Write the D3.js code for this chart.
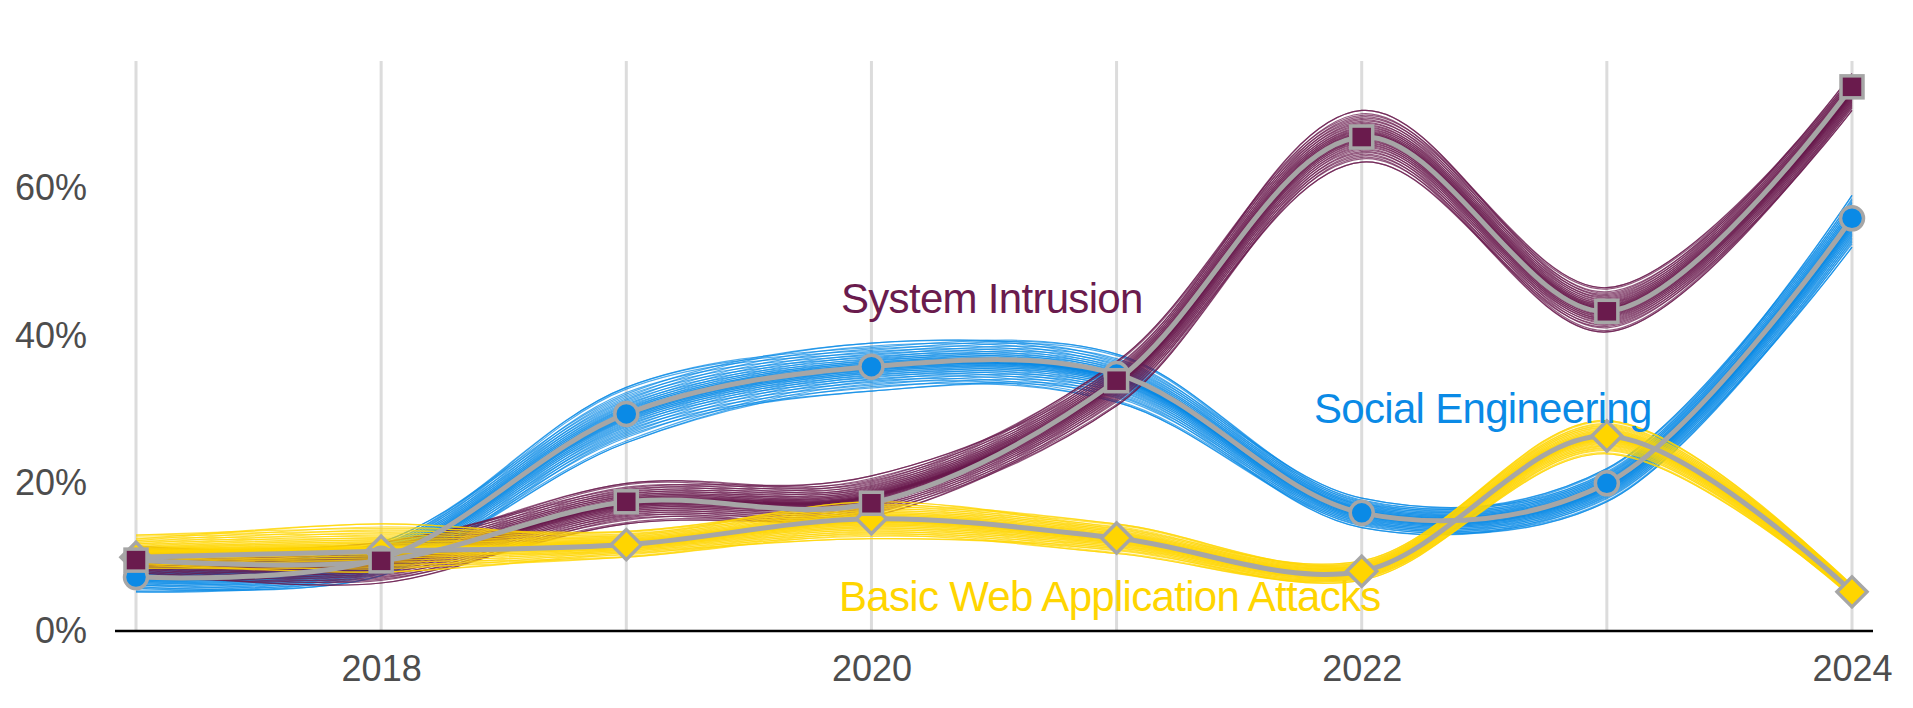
<!DOCTYPE html>
<html><head><meta charset="utf-8">
<script src="https://cdn.jsdelivr.net/npm/d3@7"></script>
<style>
html,body{margin:0;padding:0;background:#fff;}
svg{display:block;}
</style></head>
<body>
<svg id="chart" width="1913" height="708"></svg>
<script>
// ---- data (percent) ----
const years = [2017, 2018, 2019, 2020, 2021, 2022, 2023, 2024];
const xTickYears = [2018, 2020, 2022, 2024];
const yTickValues = [0, 20, 40, 60];
const seriesNames = ["System Intrusion", "Social Engineering", "Basic Web Application Attacks"];

const systemIntrusion   = [9.6, 9.5, 17.5, 17.3, 33.9, 66.9, 43.3, 73.7];
const socialEngineering = [7.3, 9.8, 29.4, 35.8, 34.8, 16.0, 20.0, 55.9];
const basicWebApp       = [10.0, 10.8, 11.7, 15.2, 12.6, 8.1, 26.4, 5.3];

// uncertainty band edges
const systemIntrusionLo   = [7.5, 6.5, 14.5, 15.5, 30.5, 63.5, 40.5, 70.5];
const systemIntrusionHi   = [11.5, 12.0, 20.0, 21.0, 36.5, 70.5, 46.5, 75.5];
const socialEngineeringLo = [5.3, 7.5, 25.5, 32.5, 31.0, 14.0, 17.5, 52.0];
const socialEngineeringHi = [9.5, 12.0, 33.0, 39.0, 37.5, 18.0, 22.0, 59.0];
const basicWebAppLo       = [8.5, 8.0, 10.0, 12.5, 10.5, 6.9, 24.0, 4.5];
const basicWebAppHi       = [13.0, 14.5, 13.5, 17.5, 14.5, 9.5, 28.5, 6.2];

const colors = ["#6a1b4d", "#0a8ae6", "#ffd500"];

// ---- layout ----
const svg = d3.select("#chart");
const x = d3.scaleLinear().domain([2017, 2024]).range([136, 1852]);
const y = d3.scaleLinear().domain([0, 77.2]).range([631, 61]);
const FONT = "'Liberation Sans', Arial, Helvetica, sans-serif";

// vertical gridlines
svg.append("g").selectAll("line").data(years).join("line")
  .attr("x1", d => x(d)).attr("x2", d => x(d))
  .attr("y1", y(77.2)).attr("y2", y(0))
  .attr("stroke", "#dcdcdc").attr("stroke-width", 3);

// y axis labels
const yAxis = svg.append("g").attr("transform", "translate(87,0)")
  .call(d3.axisLeft(y).tickValues(yTickValues).tickFormat(d => d + "%").tickSize(0).tickPadding(0));
yAxis.select(".domain").remove();
yAxis.selectAll("text").attr("font-family", FONT).attr("font-size", 36).attr("fill", "#4d4d4d");

// x axis
const xAxis = svg.append("g").attr("transform", `translate(0,${y(0)})`)
  .call(d3.axisBottom(x).tickValues(xTickYears).tickFormat(d3.format("d")).tickSize(0).tickPadding(24));
xAxis.select(".domain").remove();
xAxis.selectAll("text").attr("font-family", FONT).attr("font-size", 36).attr("fill", "#4d4d4d");
svg.append("line").attr("x1", 115).attr("x2", 1873).attr("y1", y(0)).attr("y2", y(0))
  .attr("stroke", "#000").attr("stroke-width", 2.5);

const series = [
  {name: seriesNames[0], v: systemIntrusion, lo: systemIntrusionLo, hi: systemIntrusionHi, c: colors[0]},
  {name: seriesNames[1], v: socialEngineering, lo: socialEngineeringLo, hi: socialEngineeringHi, c: colors[1]},
  {name: seriesNames[2], v: basicWebApp, lo: basicWebAppLo, hi: basicWebAppHi, c: colors[2]}
];

// thin sample lines filling each band (denser towards the middle)
const thin = d3.line().x(d => x(d[0])).y(d => y(d[1])).curve(d3.curveCatmullRom.alpha(0.5));
const N = 56;
function frac(j) { const t = (j / (N - 1)) * 2 - 1; return 0.5 + 0.5 * Math.sign(t) * Math.pow(Math.abs(t), 1.8); }
const drawOrder = [1, 0, 2];
drawOrder.forEach(si => {
  const s = series[si];
  const g = svg.append("g").attr("fill", "none").attr("stroke", s.c)
    .attr("stroke-width", 1.2).attr("stroke-opacity", 0.72);
  for (let j = 0; j < N; j++) {
    const pts = years.map((yr, i) => {
      const jj = Math.min(N - 1, Math.max(0, j + ((i + j) % 2 ? 3 : -3)));
      const q = frac(jj);
      return [yr, s.lo[i] + (s.hi[i] - s.lo[i]) * q];
    });
    g.append("path").datum(pts).attr("d", thin);
  }
});

// gray mean lines
const meanLine = d3.line().x(d => x(d[0])).y(d => y(d[1])).curve(d3.curveCatmullRom.alpha(0.5));
series.forEach(s => {
  svg.append("path").datum(years.map((yr, i) => [yr, s.v[i]]))
    .attr("d", meanLine).attr("fill", "none").attr("stroke", "#a6a6a6").attr("stroke-width", 5);
});

// markers: diamonds, circles, squares
const gray = "#a6a6a6";
const sB = series[2];
svg.append("g").selectAll("path").data(years.map((yr, i) => [yr, sB.v[i]])).join("path")
  .attr("d", "M0,-15L15,0L0,15L-15,0Z")
  .attr("transform", d => `translate(${x(d[0])},${y(d[1])})`)
  .attr("fill", sB.c).attr("stroke", gray).attr("stroke-width", 3.5).attr("stroke-linejoin", "miter");
const sS = series[1];
svg.append("g").selectAll("circle").data(years.map((yr, i) => [yr, sS.v[i]])).join("circle")
  .attr("cx", d => x(d[0])).attr("cy", d => y(d[1])).attr("r", 11.5)
  .attr("fill", sS.c).attr("stroke", gray).attr("stroke-width", 3.5);
const sI = series[0];
svg.append("g").selectAll("rect").data(years.map((yr, i) => [yr, sI.v[i]])).join("rect")
  .attr("x", d => x(d[0]) - 11).attr("y", d => y(d[1]) - 11).attr("width", 22).attr("height", 22)
  .attr("fill", sI.c).attr("stroke", gray).attr("stroke-width", 3.5);

// series labels
const labelPos = [[841, 313], [1314, 423], [839, 611]];
series.forEach((s, i) => {
  svg.append("text").attr("x", labelPos[i][0]).attr("y", labelPos[i][1])
    .attr("font-family", FONT).attr("font-size", 42).attr("letter-spacing", "-0.7px")
    .attr("fill", s.c).text(s.name);
});
</script>
</body></html>
